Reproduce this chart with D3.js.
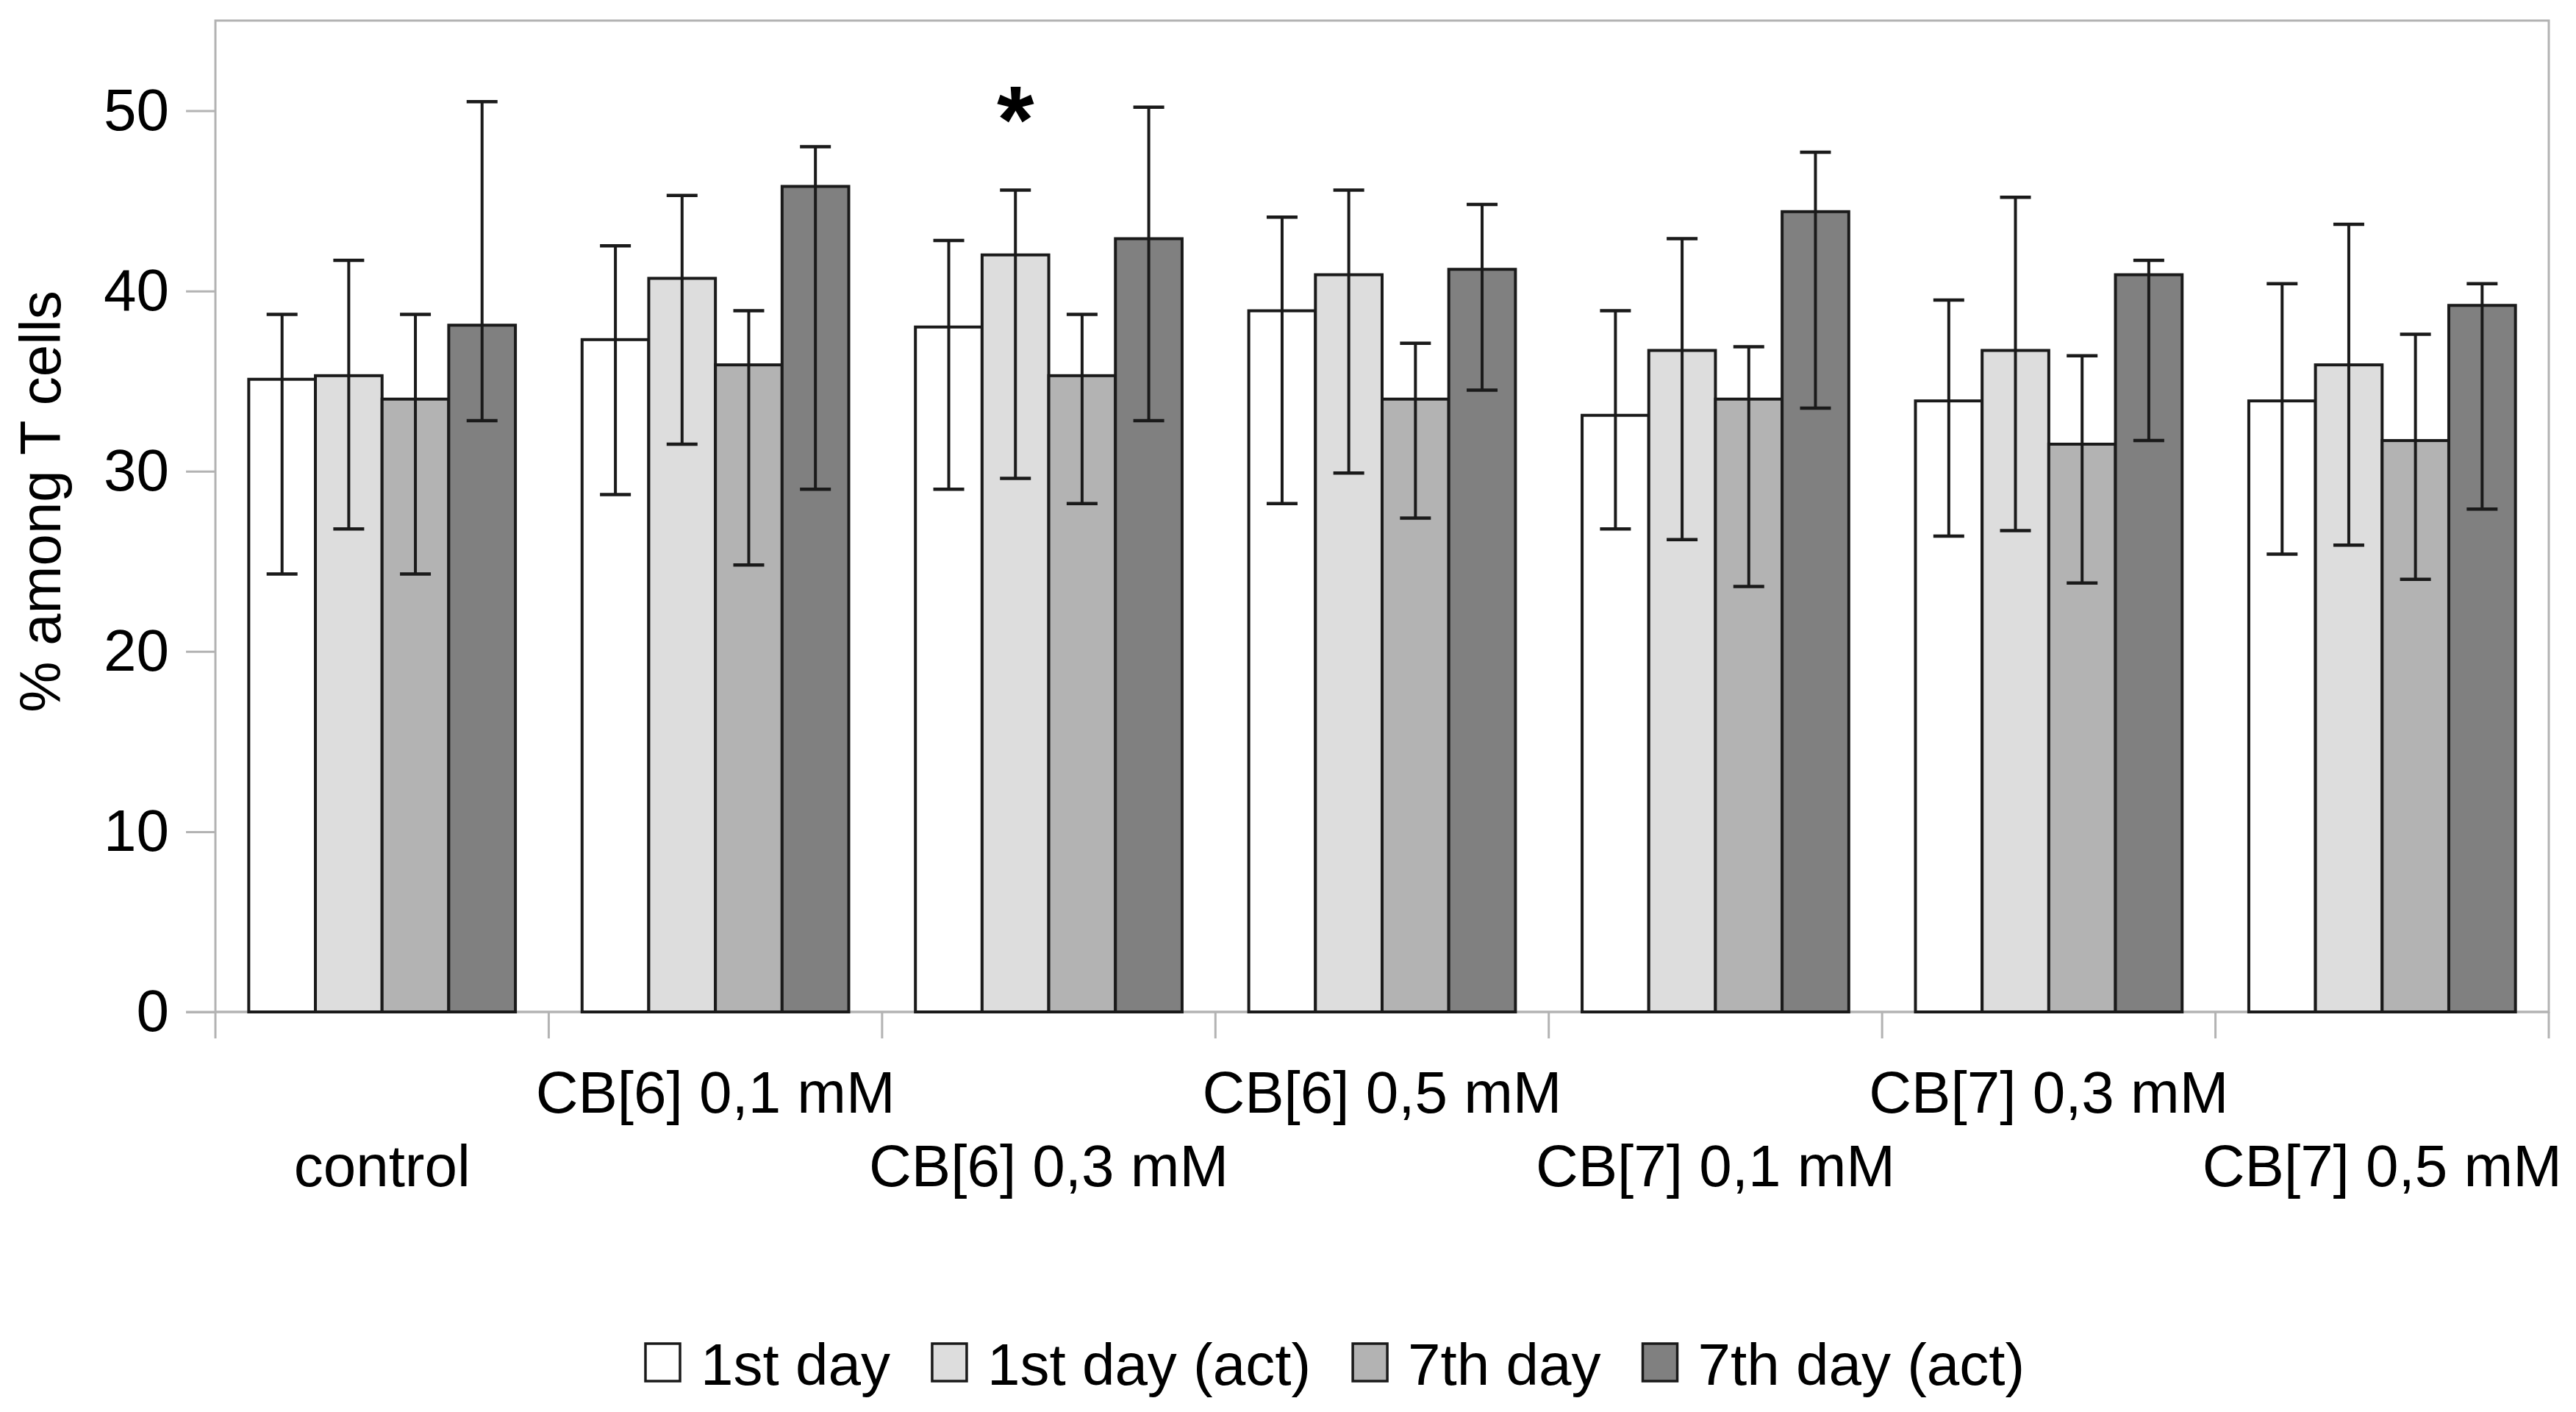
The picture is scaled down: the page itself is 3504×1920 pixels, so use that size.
<!DOCTYPE html>
<html>
<head>
<meta charset="utf-8">
<script src="https://cdn.jsdelivr.net/npm/d3@7"></script>
<style>
  html, body { margin: 0; padding: 0; background: #fff; }
  svg { display: block; font-family: "Liberation Sans", Arial, sans-serif; }
</style>
</head>
<body>
<div id="chart"></div>
<script>
// categories and series
var categories = ["control", "CB[6] 0,1 mM", "CB[6] 0,3 mM", "CB[6] 0,5 mM",
                  "CB[7] 0,1 mM", "CB[7] 0,3 mM", "CB[7] 0,5 mM"];
var seriesNames = ["1st day", "1st day (act)", "7th day", "7th day (act)"];
var seriesFills = ["#ffffff", "#dddddd", "#b3b3b3", "#808080"];

// bar heights (% among T cells)
var day1     = [35.1, 37.3, 38.0, 38.9, 33.1, 33.9, 33.9];
var day1Act  = [35.3, 40.7, 42.0, 40.9, 36.7, 36.7, 35.9];
var day7     = [34.0, 35.9, 35.3, 34.0, 34.0, 31.5, 31.7];
var day7Act  = [38.1, 45.8, 42.9, 41.2, 44.4, 40.9, 39.2];

// error bar ends
var day1Hi    = [38.7, 42.5, 42.8, 44.1, 38.9, 39.5, 40.4];
var day1Lo    = [24.3, 28.7, 29.0, 28.2, 26.8, 26.4, 25.4];
var day1ActHi = [41.7, 45.3, 45.6, 45.6, 42.9, 45.2, 43.7];
var day1ActLo = [26.8, 31.5, 29.6, 29.9, 26.2, 26.7, 25.9];
var day7Hi    = [38.7, 38.9, 38.7, 37.1, 36.9, 36.4, 37.6];
var day7Lo    = [24.3, 24.8, 28.2, 27.4, 23.6, 23.8, 24.0];
var day7ActHi = [50.5, 48.0, 50.2, 44.8, 47.7, 41.7, 40.4];
var day7ActLo = [32.8, 29.0, 32.8, 34.5, 33.5, 31.7, 27.9];

var yTicks = [0, 10, 20, 30, 40, 50];

// significance marks: [category index, series index]
var significant = [[2, 1]];

var values = [day1, day1Act, day7, day7Act];
var highs = [day1Hi, day1ActHi, day7Hi, day7ActHi];
var lows = [day1Lo, day1ActLo, day7Lo, day7ActLo];

var rows = [];
categories.forEach(function (c, ci) {
    seriesNames.forEach(function (s, si) {
        rows.push({cat: c, ci: ci, series: s, si: si,
                   value: values[si][ci], hi: highs[si][ci], lo: lows[si][ci]});
    });
});

var W = 3504, H = 1920;
var plotLeft = 293, plotRight = 3467, plotTop = 28, plotBottom = 1376;
var grey = "#b3b3b3";
var ink = "#1a1a1a";

var svg = d3.select("#chart").append("svg")
    .attr("width", W)
    .attr("height", H);

svg.append("rect").attr("width", W).attr("height", H).attr("fill", "#fff");

var y = d3.scaleLinear().domain([0, 55]).range([plotBottom, plotTop]);
var x0 = d3.scaleBand().domain(categories).range([plotLeft, plotRight])
    .paddingInner(0.2).paddingOuter(0.1);
var x1 = d3.scaleBand().domain(seriesNames).range([0, x0.bandwidth()]);

// frame
svg.append("rect")
    .attr("x", plotLeft).attr("y", plotTop)
    .attr("width", plotRight - plotLeft).attr("height", plotBottom - plotTop)
    .attr("fill", "none").attr("stroke", grey).attr("stroke-width", 3);

// y axis
var yAxis = svg.append("g")
    .attr("transform", "translate(" + plotLeft + ",0)")
    .call(d3.axisLeft(y).tickValues(yTicks).tickSize(40).tickPadding(23));
yAxis.select(".domain").remove();
yAxis.selectAll(".tick line").attr("stroke", grey).attr("stroke-width", 3);
yAxis.selectAll(".tick text")
    .attr("fill", "#000")
    .style("font-size", "80px")
    .style("font-family", "Liberation Sans, Arial, sans-serif");

// x axis line and group separators
svg.append("line")
    .attr("x1", plotLeft - 40).attr("x2", plotRight)
    .attr("y1", y(0)).attr("y2", y(0))
    .attr("stroke", grey).attr("stroke-width", 3);

var half = x0.step() * x0.paddingInner() / 2;
var bounds = categories.map(function (c) { return x0(c) - half; });
bounds.push(plotRight);
bounds[0] = plotLeft;
svg.append("g").selectAll("line")
    .data(bounds)
    .join("line")
    .attr("x1", function (d) { return d; })
    .attr("x2", function (d) { return d; })
    .attr("y1", y(0)).attr("y2", y(0) + 36)
    .attr("stroke", grey).attr("stroke-width", 3);

// category labels, staggered on two rows
svg.append("g").selectAll("text")
    .data(categories)
    .join("text")
    .attr("x", function (d) { return x0(d) + x0.bandwidth() / 2; })
    .attr("y", function (d, i) { return i % 2 === 0 ? 1613 : 1513; })
    .attr("text-anchor", "middle")
    .style("font-size", "80px")
    .attr("fill", "#000")
    .text(function (d) { return d; });

// bars
svg.append("g").selectAll("rect")
    .data(rows)
    .join("rect")
    .attr("x", function (d) { return x0(d.cat) + x1(d.series); })
    .attr("y", function (d) { return y(d.value); })
    .attr("width", x1.bandwidth())
    .attr("height", function (d) { return y(0) - y(d.value); })
    .attr("fill", function (d) { return seriesFills[d.si]; })
    .attr("stroke", ink)
    .attr("stroke-width", 4);

// error bars
var cap = 21;
var eb = svg.append("g").attr("stroke", ink).attr("stroke-width", 4);
rows.forEach(function (d) {
    var cx = x0(d.cat) + x1(d.series) + x1.bandwidth() / 2;
    eb.append("line").attr("x1", cx).attr("x2", cx)
        .attr("y1", y(d.hi)).attr("y2", y(d.lo));
    eb.append("line").attr("x1", cx - cap).attr("x2", cx + cap)
        .attr("y1", y(d.hi)).attr("y2", y(d.hi)).attr("stroke-width", 4.5);
    eb.append("line").attr("x1", cx - cap).attr("x2", cx + cap)
        .attr("y1", y(d.lo)).attr("y2", y(d.lo)).attr("stroke-width", 4.5);
});

// significance asterisk
svg.append("g").selectAll("text")
    .data(significant)
    .join("text")
    .attr("x", function (d) { return x0(categories[d[0]]) + x1(seriesNames[d[1]]) + x1.bandwidth() / 2; })
    .attr("y", function (d) { return y(highs[d[1]][d[0]]) - 50; })
    .attr("text-anchor", "middle")
    .style("font-size", "130px")
    .style("font-weight", "bold")
    .attr("fill", "#000")
    .text("*");

// y axis title
svg.append("text")
    .attr("transform", "translate(82," + ((y(0) + plotTop) / 2 - 20) + ") rotate(-90)")
    .attr("text-anchor", "middle")
    .style("font-size", "78px")
    .attr("fill", "#000")
    .text("% among T cells");

// legend
var legend = svg.append("g");
var lx = 878;
seriesNames.forEach(function (s, i) {
    legend.append("rect")
        .attr("x", lx).attr("y", 1827)
        .attr("width", 47).attr("height", 51)
        .attr("fill", seriesFills[i])
        .attr("stroke", ink).attr("stroke-width", 3.5);
    var t = legend.append("text")
        .attr("x", lx + 47 + 28).attr("y", 1883)
        .style("font-size", "80px")
        .attr("fill", "#000")
        .text(s);
    lx = lx + 47 + 28 + t.node().getComputedTextLength() + 57;
});
</script>
</body>
</html>
